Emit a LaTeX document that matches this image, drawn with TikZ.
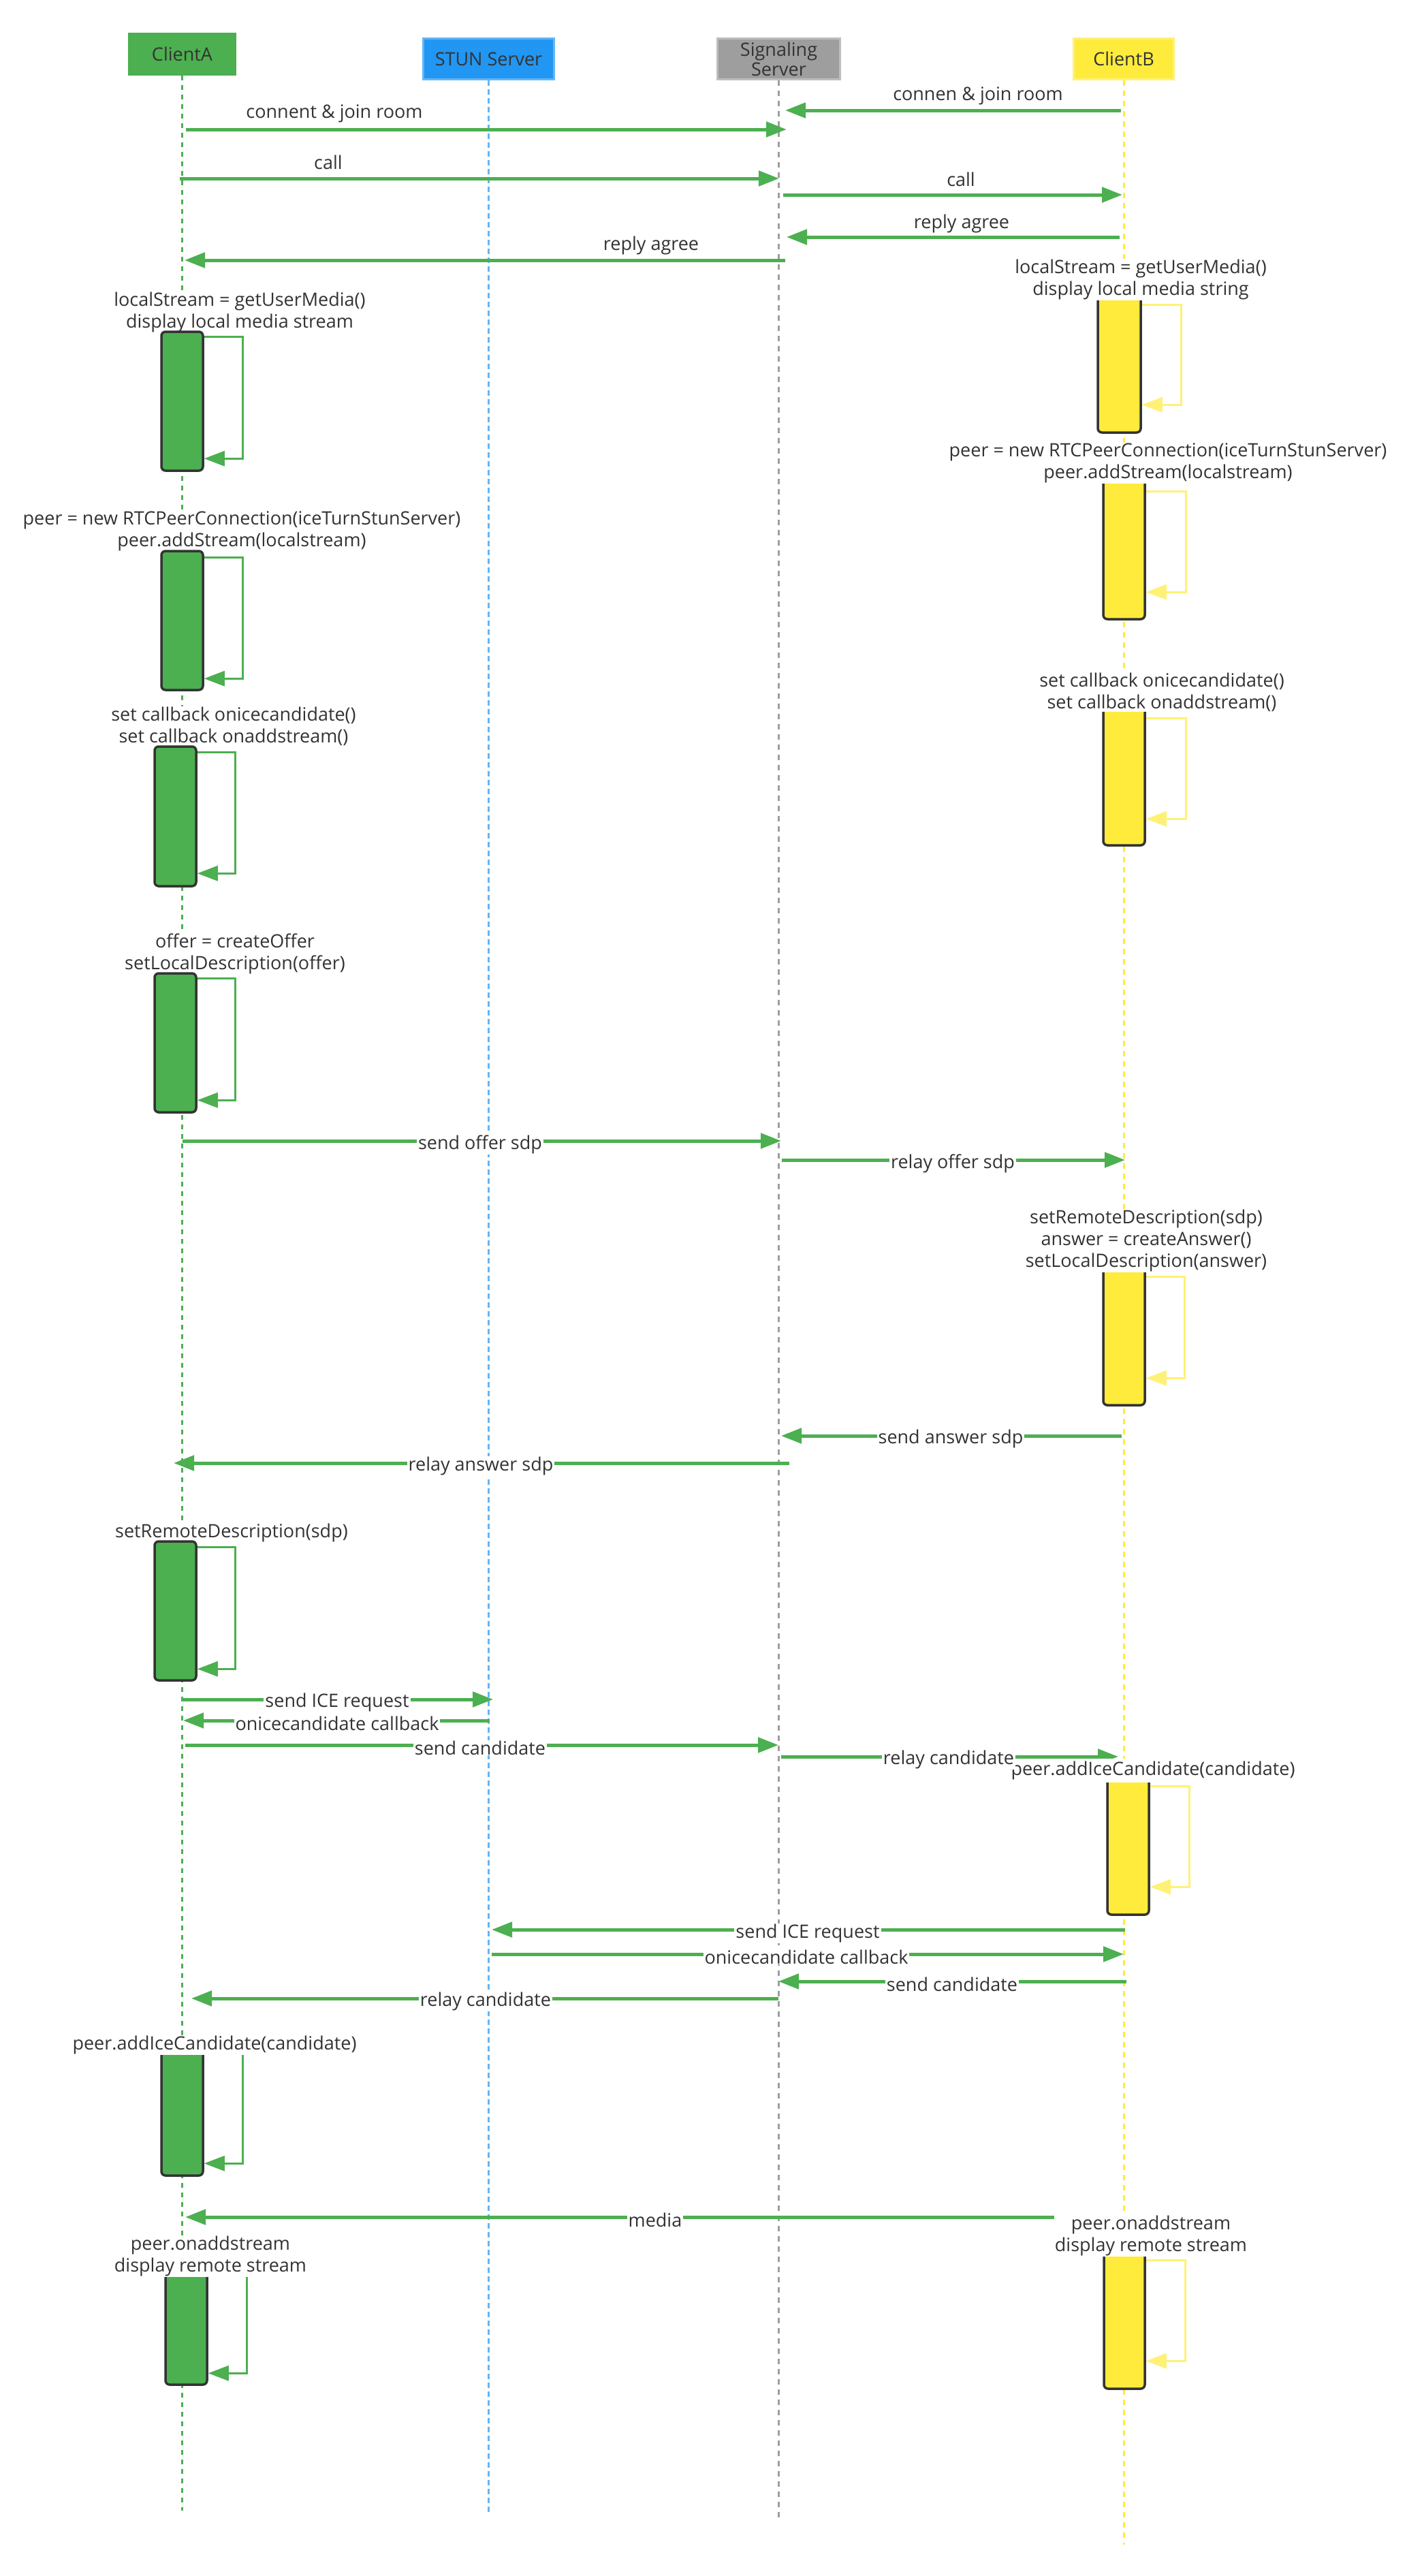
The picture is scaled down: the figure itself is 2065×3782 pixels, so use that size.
\documentclass[tikz,border=0pt]{standalone}
\usepackage{fontspec}
\setmainfont{Open Sans}
\usetikzlibrary{arrows.meta,calc}
\definecolor{grn}{HTML}{4CAF50}
\definecolor{blu}{HTML}{2196F3}
\definecolor{blul}{HTML}{64B5F6}
\definecolor{gry}{HTML}{9E9E9E}
\definecolor{gryl}{HTML}{BDBDBD}
\definecolor{yel}{HTML}{FFEB3B}
\definecolor{yell}{HTML}{FFF176}
\definecolor{txt}{HTML}{333333}
\definecolor{dk}{HTML}{333333}
\newcommand\lblfont{\fontsize{27}{32}\selectfont}
\newcommand\selfcall[5]{\draw[#1] ([yshift=-#3pt]#2.north east) -- ++(#4,0) -- ++(0,#5) -- ++(-#4,0);}
\begin{document}
\begin{tikzpicture}[x=1pt,y=-1pt,
  lbl/.style={font=\lblfont, text=txt, align=center, inner sep=1pt},
  onl/.style={lbl, fill=white, inner xsep=2pt, inner ysep=1pt},
  msg/.style={draw=grn, line width=5pt, -{Triangle[length=30pt,width=22pt]}},
  head/.style={font=\lblfont, text=txt, align=center, line width=3pt, minimum height=60pt, inner sep=0pt},
  life/.style={line width=3pt},
  actA/.style={draw=dk, fill=grn, line width=3.5pt, rounded corners=6pt, inner sep=0pt},
  actB/.style={draw=dk, fill=yel, line width=3.5pt, rounded corners=6pt, inner sep=0pt},
  slfA/.style={draw=grn, line width=3pt, -{Triangle[length=30pt,width=22pt]}},
  slfB/.style={draw=yell, line width=3pt, -{Triangle[length=30pt,width=22pt]}},
]
\useasboundingbox (0,0) rectangle (2065,3782);
\fill[white] (0,0) rectangle (2065,3782);

% headers
\node[head, fill=grn, draw=grn, minimum width=156pt] (hA) at (267.5,79.5) {ClientA};
\node[head, fill=blu, draw=blul, minimum width=192pt] (hS) at (717.5,86.5) {STUN Server};
\node[head, fill=gry, draw=gryl, minimum width=180pt, font=\fontsize{27}{29}\selectfont] (hG) at (1143.5,86.5) {Signaling\\Server};
\node[head, fill=yel, draw=yell, minimum width=147pt] (hB) at (1650,86.5) {ClientB};

% lifelines
\coordinate (eA) at (268,3686);
\coordinate (eS) at (718,3692);
\coordinate (eG) at (1142,3701);
\coordinate (eB) at (1650,3736);
\draw[life, grn, line width=3.5pt, dash pattern=on 7pt off 7pt] (hA.south) -- (hA.south |- eA);
\draw[life, blul, dash pattern=on 8pt off 5pt] (hS.south) -- (hS.south |- eS);
\draw[life, gry, dash pattern=on 8pt off 7pt] (hG.south) -- (hG.south |- eG);
\draw[life, yel, dash pattern=on 8pt off 7pt] (hB.south) -- (hB.south |- eB);

% message end points
\path (1646,162) coordinate (m1a) (1153,162) coordinate (m1b)
      (273,190) coordinate (m2a) (1155,190) coordinate (m2b)
      (264,262) coordinate (m3a) (1144,262) coordinate (m3b)
      (1150,286) coordinate (m4a) (1648,286) coordinate (m4b)
      (1644,348) coordinate (m5a) (1155,348) coordinate (m5b)
      (1153,382) coordinate (m6a) (271,382) coordinate (m6b)
      (268,1675) coordinate (m7a) (1147,1675) coordinate (m7b)
      (1148,1703) coordinate (m8a) (1652,1703) coordinate (m8b)
      (1647,2108) coordinate (m9a) (1147,2108) coordinate (m9b)
      (1159,2148) coordinate (m10a) (255,2148) coordinate (m10b)
      (267,2495) coordinate (m11a) (724,2495) coordinate (m11b)
      (719,2526) coordinate (m12a) (269,2526) coordinate (m12b)
      (272,2562) coordinate (m13a) (1143,2562) coordinate (m13b)
      (1147,2579) coordinate (m14a) (1642,2579) coordinate (m14b)
      (1652,2833) coordinate (m15a) (722,2833) coordinate (m15b)
      (722,2869) coordinate (m16a) (1650,2869) coordinate (m16b)
      (1654,2909) coordinate (m17a) (1143,2909) coordinate (m17b)
      (1143,2934) coordinate (m18a) (281,2934) coordinate (m18b)
      (1549,3255) coordinate (m19a) (272,3255) coordinate (m19b);
\foreach \i in {1,...,19} {\draw[msg] (m\i a) -- (m\i b);}

% labels above activation boxes of ClientA (drawn before the boxes)
\node[lbl, fill=white] (la1) at (352,458) {localStream = getUserMedia()\\display local media stream};
\node[lbl, fill=white] (la2) at (355,780) {peer = new RTCPeerConnection(iceTurnStunServer)\\peer.addStream(localstream)};
\node[lbl, fill=white] (la3) at (343,1066) {set callback onicecandidate()\\set callback onaddstream()};
\node[lbl, fill=white] (la4) at (345,1400) {offer = createOffer\\setLocalDescription(offer)};
\node[lbl, fill=white] (la5) at (340,2250) {setRemoteDescription(sdp)};

% activation boxes ClientA
\node[actA, minimum width=61pt, minimum height=204pt] (a1) at (267.5,589) {};
\node[actA, minimum width=61pt, minimum height=204pt] (a2) at (267.5,911) {};
\node[actA, minimum width=61pt, minimum height=205pt] (a3) at (257.5,1198.5) {};
\node[actA, minimum width=61pt, minimum height=204pt] (a4) at (257.5,1531) {};
\node[actA, minimum width=61pt, minimum height=204pt] (a5) at (257.5,2365) {};
\node[actA, minimum width=61pt, minimum height=190pt] (a6) at (267.5,3099) {};
\node[actA, minimum width=61pt, minimum height=173pt] (a7) at (273.5,3414.5) {};
\selfcall{slfA}{a1}{9}{57}{179}
\selfcall{slfA}{a2}{11}{57}{178}
\selfcall{slfA}{a3}{10}{56}{178}
\selfcall{slfA}{a4}{9}{56}{179}
\selfcall{slfA}{a5}{10}{56}{179}
\selfcall{slfA}{a6}{4}{57}{170}
\selfcall{slfA}{a7}{6}{57}{152}

% activation boxes ClientB
\node[actB, minimum width=63pt, minimum height=208pt] (b1) at (1643.5,531) {};
\node[actB, minimum width=61pt, minimum height=212pt] (b2) at (1650.5,803) {};
\node[actB, minimum width=61pt, minimum height=207pt] (b3) at (1650.5,1137.5) {};
\node[actB, minimum width=61pt, minimum height=208pt] (b4) at (1650.5,1959) {};
\node[actB, minimum width=61pt, minimum height=209pt] (b5) at (1656.5,2706.5) {};
\node[actB, minimum width=60pt, minimum height=209pt] (b6) at (1651,3402.5) {};
\selfcall{slfB}{b1}{22}{58}{147}
\selfcall{slfB}{b2}{26}{59}{148}
\selfcall{slfB}{b3}{22}{59}{148}
\selfcall{slfB}{b4}{21}{57}{149}
\selfcall{slfB}{b5}{22}{58}{148}
\selfcall{slfB}{b6}{22}{58}{148}

% labels that cover the top of their boxes
\node[lbl, fill=white] (la6) at (315,3002) {peer.addIceCandidate(candidate)};
\node[lbl, fill=white] (la7) at (309,3312) {peer.onaddstream\\display remote stream};
\node[lbl, fill=white] (lb1) at (1675,410) {localStream = getUserMedia()\\display local media string};
\node[lbl, fill=white] (lb2) at (1715,680) {peer = new RTCPeerConnection(iceTurnStunServer)\\peer.addStream(localstream)};
\node[lbl, fill=white] (lb3) at (1706,1016) {set callback onicecandidate()\\set callback onaddstream()};
\node[lbl, fill=white] (lb4) at (1683,1821) {setRemoteDescription(sdp)\\answer = createAnswer()\\setLocalDescription(answer)};
\node[lbl, fill=white, inner ysep=4pt] (lb5) at (1693,2599) {peer.addIceCandidate(candidate)};
\node[lbl, fill=white] (lb6) at (1690,3282) {peer.onaddstream\\display remote stream};

% message labels
\node[lbl] (t1) at (1436,141) {connen \& join room};
\node[lbl] (t2) at (491,167) {connent \& join room};
\node[lbl] (t3) at (482,238) {call};
\node[lbl] (t4) at (1411,263) {call};
\node[lbl] (t5) at (1412,328) {reply agree};
\node[lbl] (t6) at (956,360) {reply agree};
\node[onl] (t7) at (705,1680) {send offer sdp};
\node[onl] (t8) at (1399,1708) {relay offer sdp};
\node[onl] (t9) at (1396,2112) {send answer sdp};
\node[onl] (t10) at (706,2152) {relay answer sdp};
\node[onl] (t11) at (495,2499) {send ICE request};
\node[onl] (t12) at (495,2530) {onicecandidate callback};
\node[onl] (t13) at (705,2566) {send candidate};
\node[onl] (t14) at (1393,2583) {relay candidate};
\node[onl] (t15) at (1186,2838) {send ICE request};
\node[onl] (t16) at (1184,2873) {onicecandidate callback};
\node[onl] (t17) at (1398,2913) {send candidate};
\node[onl] (t18) at (713,2938) {relay candidate};
\node[onl] (t19) at (962,3259) {media};
\end{tikzpicture}
\end{document}
